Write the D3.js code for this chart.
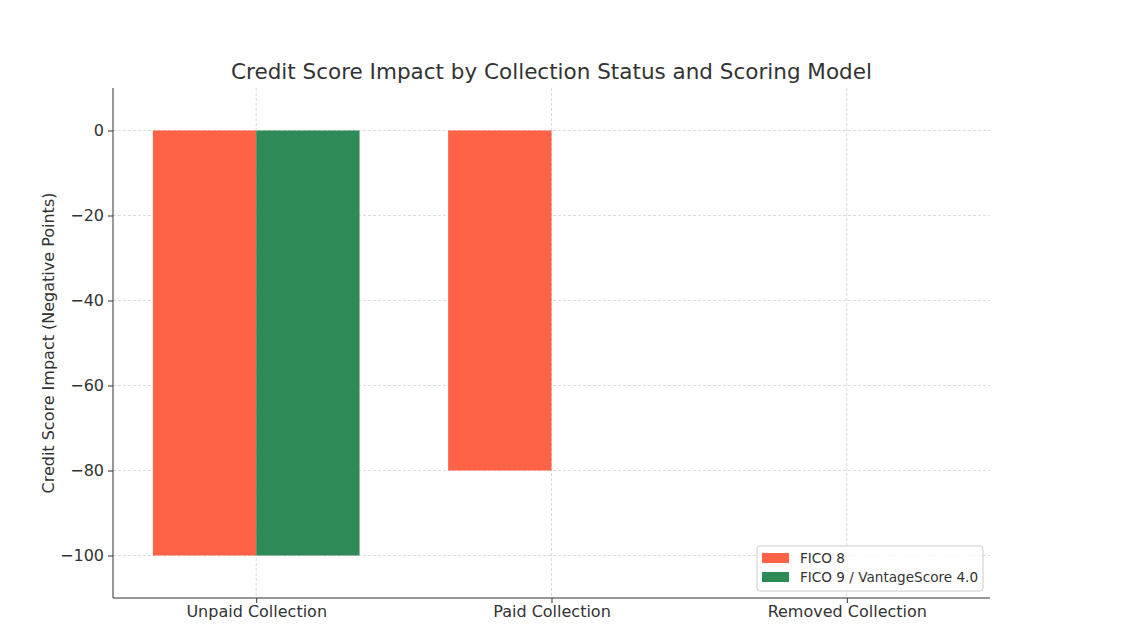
<!DOCTYPE html>
<html><head><meta charset="utf-8">
<script src="https://cdn.jsdelivr.net/npm/d3@7"></script>
<style>body{margin:0;background:#fff;} text{font-family:"DejaVu Sans",sans-serif;}</style>
</head><body>
<svg id="c" width="1142" height="638"></svg>
<script>
const categories = ["Unpaid Collection", "Paid Collection", "Removed Collection"];
const seriesNames = ["FICO 8", "FICO 9 / VantageScore 4.0"];
const fico8 = [-100, -80, 0];
const fico9 = [-100, 0, 0];
const yTicks = [0, -20, -40, -60, -80, -100];
const colors = ["#ff6347", "#2e8b57"];
const title = "Credit Score Impact by Collection Status and Scoring Model";
const yLabel = "Credit Score Impact (Negative Points)";

const svg = d3.select("#c");
const L = 113, R = 990, T = 88, B = 598;
const barW = 0.35;
const x = d3.scaleLinear().domain([-0.485, 2.485]).range([L, R]);
const y = d3.scaleLinear().domain([-110, 10]).range([B, T]);
const ink = "#333";

// grid
const g = svg.append("g");
g.selectAll(".gy").data(yTicks).enter().append("line")
  .attr("x1", L).attr("x2", R).attr("y1", d => y(d)).attr("y2", d => y(d))
  .attr("stroke", "#d0d0d0").attr("stroke-width", 0.8).attr("stroke-dasharray", "3,2");
g.selectAll(".gx").data(categories).enter().append("line")
  .attr("x1", (d,i) => x(i)).attr("x2", (d,i) => x(i)).attr("y1", T).attr("y2", B)
  .attr("stroke", "#d0d0d0").attr("stroke-width", 0.8).attr("stroke-dasharray", "3,2");

// bars
const series = [fico8, fico9];
series.forEach((vals, s) => {
  svg.append("g").selectAll("rect").data(vals).enter().append("rect")
    .attr("x", (d,i) => x(i + (s === 0 ? -barW : 0)))
    .attr("width", x(barW) - x(0))
    .attr("y", d => y(Math.max(0, d)))
    .attr("height", d => Math.abs(y(d) - y(0)))
    .attr("fill", colors[s]);
});

// axes
const yAxis = d3.axisLeft(y).tickValues(yTicks).tickSize(5).tickPadding(4)
  .tickFormat(d => d < 0 ? "\u2212" + Math.abs(d) : d);
const ya = svg.append("g").attr("transform", `translate(${L},0)`).call(yAxis);
ya.select(".domain").attr("d", `M0,${T}V${B}`).attr("stroke", ink);
ya.selectAll(".tick line").attr("stroke", ink);
ya.selectAll(".tick text").attr("fill", ink).style("font-size", "16px").style("font-family", "DejaVu Sans");

const xAxis = d3.axisBottom(x).tickValues([0,1,2]).tickSize(5).tickPadding(3)
  .tickFormat(i => categories[i]);
const xa = svg.append("g").attr("transform", `translate(0,${B})`).call(xAxis);
xa.select(".domain").attr("d", `M${L},0H${R}`).attr("stroke", ink);
xa.selectAll(".tick line").attr("stroke", ink);
xa.selectAll(".tick text").attr("fill", ink).style("font-size", "16px").style("font-family", "DejaVu Sans");

// title
svg.append("text").attr("x", (L+R)/2).attr("y", 79).attr("text-anchor", "middle")
  .attr("fill", ink).style("font-size", "21.5px").text(title);
// y label
svg.append("text").attr("transform", `translate(54,${(T+B)/2}) rotate(-90)`)
  .attr("text-anchor", "middle").attr("fill", ink).style("font-size", "16px").text(yLabel);

// legend
const lg = svg.append("g").attr("transform", "translate(757,546)");
lg.append("rect").attr("width", 226).attr("height", 45).attr("rx", 3)
  .attr("fill", "#fff").attr("fill-opacity", 0.8).attr("stroke", "#ccc");
seriesNames.forEach((n, i) => {
  lg.append("rect").attr("x", 5).attr("y", 7 + i*19).attr("width", 27).attr("height", 10).attr("fill", colors[i]);
  lg.append("text").attr("x", 43).attr("y", 17 + i*19).attr("fill", ink).style("font-size", "13.6px").text(n);
});
</script>
</body></html>
